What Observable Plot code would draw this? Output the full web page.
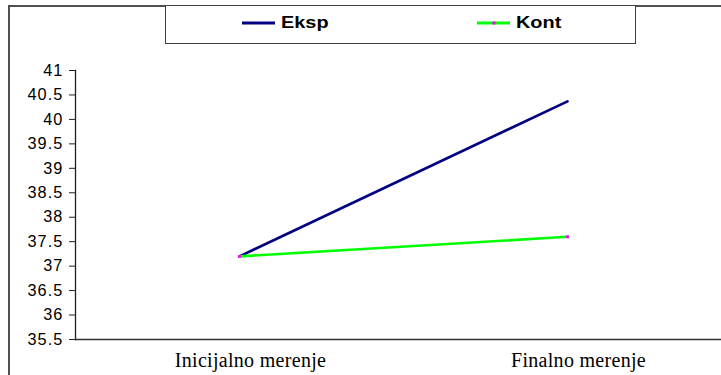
<!DOCTYPE html>
<html>
<head>
<meta charset="utf-8">
<script src="https://cdn.jsdelivr.net/npm/d3@7"></script>
<script src="https://cdn.jsdelivr.net/npm/@observablehq/plot@0.6"></script>
<style>
  html, body { margin: 0; padding: 0; background: #fff; overflow: hidden; }
  #wrap { position: relative; width: 721px; height: 375px; }
  #frame { position: absolute; left: 8px; top: 5px; width: 760px; height: 420px;
           border-left: 2px solid #505050; border-top: 2px solid #505050; box-sizing: border-box; }
  #legend { position: absolute; left: 165px; top: 5px; width: 471px; height: 39px;
            border: 1.5px solid #404040; box-sizing: border-box; background: #fff;
            font-family: "Liberation Sans", Arial, sans-serif; font-weight: bold; font-size: 17px; color: #000; }
  .item { position: absolute; top: 7px; display: flex; align-items: center; }
  .item svg { margin-right: 6px; }
  .item span { display: inline-block; transform: scaleX(1.17); transform-origin: left center; }
  #chart { position: absolute; left: 0; top: 0; }
  #chart g[aria-label="y-axis tick label"] text { letter-spacing: 1.1px; }
  #chart g[aria-label="x-axis tick label"] text { letter-spacing: 0.3px; }
</style>
</head>
<body>
<div id="wrap">
  <div id="chart"></div>
  <div id="frame"></div>
  <div id="legend"></div>
</div>
<script>
const categories = ["Inicijalno merenje", "Finalno merenje"];
const seriesNames = ["Eksp", "Kont"];
const eksp = [37.2, 40.37];
const kont = [37.2, 37.6];
const yTicks = [35.5, 36, 36.5, 37, 37.5, 38, 38.5, 39, 39.5, 40, 40.5, 41];
const colors = ["#000080", "#00ff00"];

const data = [];
categories.forEach((c, i) => {
  data.push({cat: c, series: "Eksp", value: eksp[i]});
  data.push({cat: c, series: "Kont", value: kont[i]});
});

const plot = Plot.plot({
  width: 721,
  height: 375,
  marginLeft: 75,
  marginTop: 70,
  marginBottom: 36,
  marginRight: 0,
  style: {background: "transparent", overflow: "hidden"},
  x: {type: "point", domain: categories, range: [75, 731], padding: 0.5},
  y: {domain: [35.5, 41], range: [339, 70]},
  color: {domain: seriesNames, range: colors},
  marks: [
    Plot.frame({anchor: "left", stroke: "#202020", strokeWidth: 1.3}),
    Plot.ruleY([35.5], {stroke: "#303030", strokeWidth: 1.3}),
    Plot.axisY({ticks: yTicks, tickSize: 6, tickPadding: 6, tickFormat: d => String(d),
                fontSize: 16.3, fontFamily: "Liberation Sans, Arial, sans-serif", fill: "#000", stroke: "#202020", label: null}),
    Plot.axisX({tickSize: 0, tickPadding: 13, dx: 11, fontSize: 20, fontFamily: "Liberation Serif, Times New Roman, serif", fill: "#000", label: null}),
    Plot.line(data, {x: "cat", y: "value", z: "series", stroke: "series", strokeWidth: 2.6}),
    Plot.dot(data.filter(d => d.series === "Kont"), {x: "cat", y: "value", symbol: "square", r: 1.6, fill: "#ff00ff"})
  ]
});
document.getElementById("chart").appendChild(plot);

const legend = document.getElementById("legend");
const legendPos = [76, 311];
seriesNames.forEach((s, i) => {
  const d = document.createElement("div");
  d.className = "item";
  d.style.left = legendPos[i] + "px";
  d.innerHTML = `<svg width="33" height="6"><line x1="0" y1="3" x2="33" y2="3" stroke="${colors[i]}" stroke-width="3"/>` +
    (i === 1 ? `<rect x="15.5" y="1.5" width="3" height="3" fill="#ff00ff"/>` : "") + `</svg><span>${s}</span>`;
  legend.appendChild(d);
});
</script>
</body>
</html>
